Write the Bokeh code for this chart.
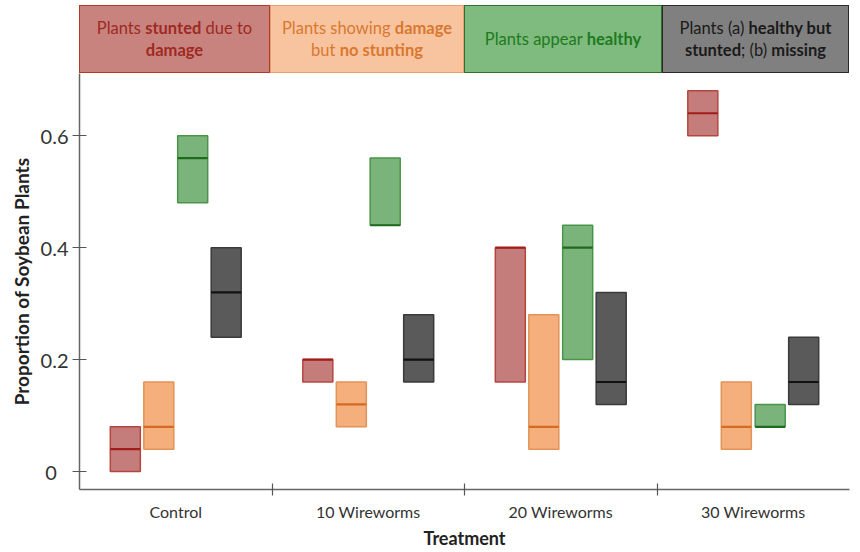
from bokeh.plotting import figure
from bokeh.models import Range1d, FixedTicker, Div, Spacer, ColumnDataSource
from bokeh.layouts import column, row
from bokeh.embed import file_html
from bokeh.resources import INLINE

# ---- data ----
treatments = ["Control", "10 Wireworms", "20 Wireworms", "30 Wireworms"]
series = ["stunted", "damage", "healthy", "missing"]
# low / high / median per series, ordered by treatment
stunted_low = [0.00, 0.16, 0.16, 0.60]
stunted_high = [0.08, 0.20, 0.40, 0.68]
stunted_med = [0.04, 0.20, 0.40, 0.64]
damage_low = [0.04, 0.08, 0.04, 0.04]
damage_high = [0.16, 0.16, 0.28, 0.16]
damage_med = [0.08, 0.12, 0.08, 0.08]
healthy_low = [0.48, 0.44, 0.20, 0.08]
healthy_high = [0.60, 0.56, 0.44, 0.12]
healthy_med = [0.56, 0.44, 0.40, 0.08]
missing_low = [0.24, 0.16, 0.12, 0.12]
missing_high = [0.40, 0.28, 0.32, 0.24]
missing_med = [0.32, 0.20, 0.16, 0.16]
y_ticks = [0, 0.2, 0.4, 0.6]
y_tick_labels = ["0\u2007", "0.2", "0.4", "0.6"]

FONT = "Lato"

lows = [stunted_low, damage_low, healthy_low, missing_low]
highs = [stunted_high, damage_high, healthy_high, missing_high]
meds = [stunted_med, damage_med, healthy_med, missing_med]
offsets = [-0.262, -0.088, 0.088, 0.262]
bar_w = 0.156
fills = ["#c47d7a", "#f4af7d", "#7bb47b", "#5a5a5a"]
borders = ["#b5463f", "#e39358", "#4a944a", "#3a3a3a"]
med_cols = ["#a31c1c", "#d46b22", "#1d6b1d", "#111111"]

p = figure(width=852, height=479, output_backend="svg", toolbar_location=None,
           x_range=Range1d(0, len(treatments)), y_range=Range1d(-0.032, 0.711),
           min_border_left=79, min_border_right=3, min_border_top=0, min_border_bottom=63,
           margin=0)
p.outline_line_color = None
p.xgrid.grid_line_color = None
p.ygrid.grid_line_color = None
p.background_fill_color = "white"

for k in range(len(series)):
    xs = [i + 0.5 + offsets[k] for i in range(len(treatments))]
    src = ColumnDataSource(dict(x=xs, lo=lows[k], hi=highs[k], med=meds[k],
                                x0=[x - bar_w / 2 for x in xs], x1=[x + bar_w / 2 for x in xs]))
    p.vbar(x="x", width=bar_w, bottom="lo", top="hi", source=src,
           fill_color=fills[k], line_color=borders[k], line_width=1.5)
    p.segment(x0="x0", x1="x1", y0="med", y1="med", source=src,
              line_color=med_cols[k], line_width=2.2)

# x axis
xa = p.xaxis[0]
xa.ticker = FixedTicker(ticks=[i + 0.5 for i in range(len(treatments))],
                        minor_ticks=list(range(1, len(treatments))))
xa.major_label_overrides = {i + 0.5: t for i, t in enumerate(treatments)}
xa.major_tick_line_color = None
xa.major_tick_in = 0
xa.major_tick_out = 6
xa.minor_tick_in = 6
xa.minor_tick_out = 6
xa.minor_tick_line_color = "#555555"
xa.minor_tick_line_width = 1.2
xa.axis_line_color = "#666666"
xa.axis_line_width = 1.5
xa.major_label_text_font = FONT
xa.major_label_text_font_size = "16px"
xa.major_label_text_color = "#333333"
xa.major_label_standoff = 6
xa.axis_label = "Treatment"
xa.axis_label_text_font = FONT
xa.axis_label_text_font_style = "bold"
xa.axis_label_text_font_size = "18px"
xa.axis_label_text_color = "#222222"
xa.axis_label_standoff = 3

ya = p.yaxis[0]
ya.ticker = FixedTicker(ticks=y_ticks)
ya.major_label_overrides = {t: l for t, l in zip(y_ticks, y_tick_labels)}
ya.major_tick_in = 7
ya.major_tick_out = 7
ya.major_tick_line_color = "#555555"
ya.major_tick_line_width = 1.2
ya.minor_tick_line_color = None
ya.axis_line_color = "#666666"
ya.axis_line_width = 1.5
ya.major_label_text_font = FONT
ya.major_label_text_font_size = "20px"
ya.major_label_text_color = "#333333"
ya.major_label_standoff = 4
ya.axis_label = "Proportion of Soybean Plants"
ya.axis_label_text_font = FONT
ya.axis_label_text_font_style = "bold"
ya.axis_label_text_font_size = "19px"
ya.axis_label_text_color = "#222222"
ya.axis_label_standoff = 5

# header boxes
headers = [
    ('Plants <b>stunted</b> due to<br><b>damage</b>', "#c9837f", "#b0392e", "#9e2a22", 191),
    ('Plants showing <b>damage</b><br>but <b>no stunting</b>', "#f8c4a0", "#e8a070", "#d9782e", 194),
    ('Plants appear <b>healthy</b>', "#7fbb7f", "#2f6f2f", "#1e7a1e", 198),
    ('Plants (a) <b>healthy but</b><br><b>stunted</b>; (b) <b>missing</b>', "#808080", "#2a2a2a", "#1a1a1a", 187),
]
divs = []
for txt, bg, bd, fg, w in headers:
    html = (f'<div style="width:{w}px;height:68px;box-sizing:border-box;background:{bg};'
            f'border:1.5px solid {bd};display:flex;align-items:center;justify-content:center;'
            f'text-align:center;font-family:{FONT};font-size:16.5px;line-height:22px;color:{fg};">'
            f'<span>{txt}</span></div>')
    divs.append(Div(text=html, width=w, height=68, margin=0))

top_pad = Spacer(width=10, height=5, margin=0)
header = row(Spacer(width=79, height=68, margin=0), *divs, margin=0, spacing=0)
layout = column(top_pad, header, p, margin=0, spacing=0)

open("out.html", "w").write(file_html(layout, INLINE))
